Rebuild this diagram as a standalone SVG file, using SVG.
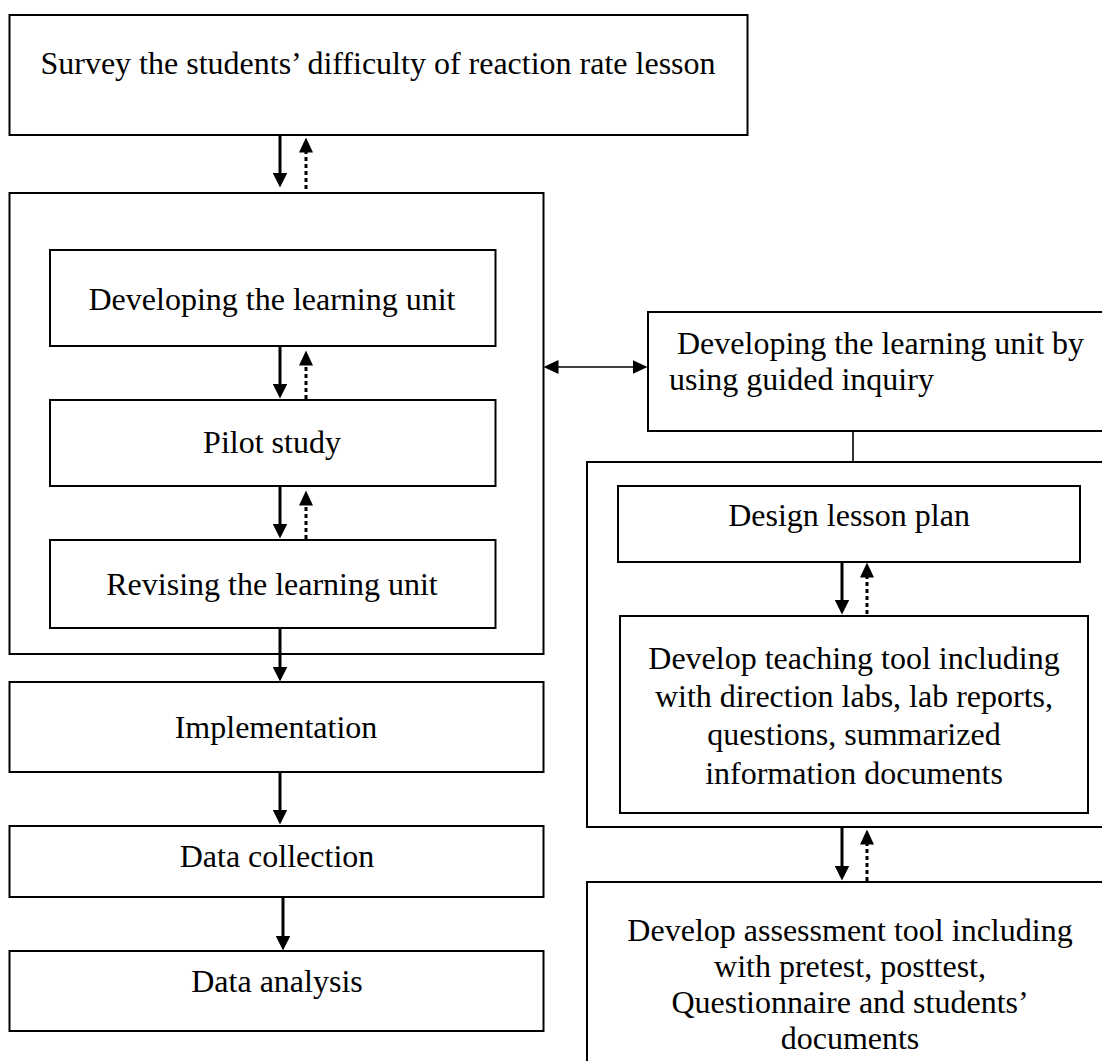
<svg xmlns="http://www.w3.org/2000/svg" width="1102" height="1061" viewBox="0 0 1102 1061">
<style>
.box{fill:#fff;stroke:#000;stroke-width:2}
.t{font-family:"Liberation Serif","Times New Roman",serif;font-size:32px;fill:#000}
.c{text-anchor:middle}
.solid{stroke:#000;stroke-width:3;fill:none}
.dot{stroke:#000;stroke-width:3;fill:none;stroke-dasharray:4 3}
.thin{stroke:#000;stroke-width:1.6;fill:none}
</style>
<defs>
<marker id="head" markerUnits="userSpaceOnUse" viewBox="0 0 15 15" markerWidth="15" markerHeight="15" refX="0.5" refY="7.5" orient="auto">
<path d="M0,0 L15,7.5 L0,15 z" fill="#000"/>
</marker>
<marker id="headS" markerUnits="userSpaceOnUse" viewBox="0 0 15 14" markerWidth="15" markerHeight="14" refX="0.5" refY="7" orient="auto-start-reverse">
<path d="M0,0 L15,7 L0,14 z" fill="#000"/>
</marker>
</defs>
<rect width="1102" height="1061" fill="#fff"/>
<g id="survey"><rect class="box" x="9.5" y="15" width="738" height="120"/><text class="t c" x="378" y="74">Survey the students’ difficulty of reaction rate lesson</text></g>
<g id="dev-group"><rect class="box" x="9.5" y="193" width="534" height="461"/></g>
<g id="developing"><rect class="box" x="50" y="250" width="445.5" height="96"/><text class="t c" x="272" y="310">Developing the learning unit</text></g>
<g id="pilot"><rect class="box" x="50" y="400" width="445.5" height="86"/><text class="t c" x="272" y="453">Pilot study</text></g>
<g id="revising"><rect class="box" x="50" y="540" width="445.5" height="88"/><text class="t c" x="272" y="595">Revising the learning unit</text></g>
<g id="implementation"><rect class="box" x="9.5" y="682" width="534" height="90"/><text class="t c" x="276" y="738">Implementation</text></g>
<g id="collection"><rect class="box" x="9.5" y="826" width="534" height="71"/><text class="t c" x="277" y="867">Data collection</text></g>
<g id="analysis"><rect class="box" x="9.5" y="951" width="534" height="80"/><text class="t c" x="277" y="992">Data analysis</text></g>
<g id="guided"><rect class="box" x="648" y="312" width="470" height="119"/><text class="t" x="677" y="354">Developing the learning unit by</text><text class="t" x="669" y="390">using guided inquiry</text></g>
<g id="tools-group"><rect class="box" x="587" y="462" width="530" height="365"/></g>
<g id="lesson-plan"><rect class="box" x="618" y="486" width="462" height="76"/><text class="t c" x="849" y="526">Design lesson plan</text></g>
<g id="teaching"><rect class="box" x="620" y="616" width="468" height="197"/><text class="t c" x="854" y="669">Develop teaching tool including</text><text class="t c" x="854" y="707">with direction labs, lab reports,</text><text class="t c" x="854" y="745">questions, summarized</text><text class="t c" x="854" y="784">information documents</text></g>
<g id="assessment"><rect class="box" x="587" y="882" width="530" height="200"/><text class="t c" x="850" y="941">Develop assessment tool including</text><text class="t c" x="850" y="977">with pretest, posttest,</text><text class="t c" x="850" y="1013">Questionnaire and students’</text><text class="t c" x="850" y="1049">documents</text></g>
<g id="connectors">
<line class="solid" x1="280" y1="135" x2="280" y2="173" marker-end="url(#head)"/>
<line class="dot" x1="306" y1="189" x2="306" y2="152" marker-end="url(#headS)"/>
<line class="solid" x1="280" y1="346" x2="280" y2="384" marker-end="url(#head)"/>
<line class="dot" x1="306" y1="399" x2="306" y2="365" marker-end="url(#headS)"/>
<line class="solid" x1="280" y1="486" x2="280" y2="524" marker-end="url(#head)"/>
<line class="dot" x1="306" y1="539" x2="306" y2="505" marker-end="url(#headS)"/>
<line class="solid" x1="280" y1="628" x2="280" y2="667" marker-end="url(#head)"/>
<line class="solid" x1="280" y1="772" x2="280" y2="810" marker-end="url(#head)"/>
<line class="solid" x1="283" y1="897" x2="283" y2="936" marker-end="url(#head)"/>
<line class="solid" x1="842" y1="562" x2="842" y2="600" marker-end="url(#head)"/>
<line class="dot" x1="867" y1="614" x2="867" y2="577" marker-end="url(#headS)"/>
<line class="solid" x1="842" y1="827" x2="842" y2="866" marker-end="url(#head)"/>
<line class="dot" x1="867" y1="881" x2="867" y2="844" marker-end="url(#headS)"/>
<line class="thin" x1="558" y1="367" x2="633" y2="367" marker-start="url(#headS)" marker-end="url(#headS)"/>
<line class="thin" x1="853" y1="431" x2="853" y2="462"/>
</g>
</svg>
